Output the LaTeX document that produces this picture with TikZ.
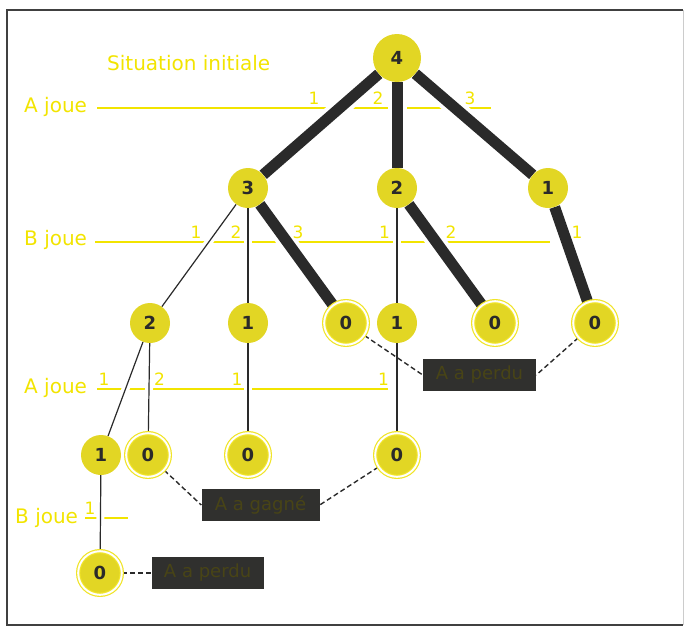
\documentclass[tikz,border=0pt]{standalone}
\usepackage{fontspec}
\setmainfont{DejaVu Sans}
\usetikzlibrary{positioning,backgrounds}
\definecolor{heapyellow}{RGB}{226,214,36}
\definecolor{ringyellow}{RGB}{240,228,40}
\definecolor{rowyellow}{RGB}{242,228,0}
\definecolor{movegray}{RGB}{42,42,42}
\definecolor{verdictgray}{RGB}{48,48,46}
\definecolor{verdicttext}{RGB}{72,68,22}

\begin{document}
\begin{tikzpicture}[x=1pt,y=-1pt,
    heap/.style={circle,fill=heapyellow,inner sep=0pt,minimum size=40pt,
      text=movegray,font=\bfseries\fontsize{18}{18}\selectfont},
    topheap/.style={heap,minimum size=48pt},
    nil/.style={heap,draw=ringyellow,double=white,double distance=2pt,
      line width=1.2pt,minimum size=43.6pt},
    take/.style={line width=11pt,draw=movegray,preaction={draw=white,line width=19pt}},
    other/.style={line width=1.2pt,draw=movegray,preaction={draw=white,line width=8pt}},
    result/.style={dash pattern=on 5pt off 3pt,line width=1.4pt,draw=movegray},
    verdict/.style={rectangle,fill=verdictgray,text=verdicttext,minimum width=113pt,
      minimum height=32pt,inner sep=0pt,font=\fontsize{18}{18}\selectfont},
    player/.style={anchor=west,text=rowyellow,inner sep=0pt,font=\fontsize{20}{20}\selectfont},
    row/.style={draw=rowyellow,line width=1.3pt},
    num/.style={anchor=south,text=rowyellow,inner sep=0pt,font=\fontsize{17}{17}\selectfont}
  ]
    \useasboundingbox (0,0) rectangle (685,629);
    \draw[line width=1.5pt,black!75] (683,10) -- (7,10) -- (7,625) -- (683,625);
    \draw[line width=0.8pt,black!20] (683,10) -- (683,625);

    \node[topheap] (r) at (397,58) {4};
    \node[heap] (r1) at (248,188) {3};
    \node[heap] (r2) at (397,188) {2};
    \node[heap] (r3) at (548,188) {1};
    \node[heap] (r11) at (150,323) {2};
    \node[heap] (r12) at (248,323) {1};
    \node[nil] (r13) at (346,323) {0};
    \node[heap] (r21) at (397,323) {1};
    \node[nil] (r22) at (495,323) {0};
    \node[nil] (r31) at (595,323) {0};
    \node[heap] (r111) at (101,455) {1};
    \node[nil] (r112) at (148,455) {0};
    \node[nil] (r121) at (248,455) {0};
    \node[nil] (r211) at (397,455) {0};
    \node[nil] (r1111) at (100,573) {0};

    \node[verdict] (lostB) at (479.5,375) {A a perdu};
    \node[verdict,minimum width=118pt] (won) at (260.5,505) {A a gagné};
    \node[verdict,minimum width=112pt,right=29pt of r1111] (lostD) {A a perdu};

    \node[player] (sit) at (107,63) {Situation initiale};
    \node[player] (pa1) at (24,107) {A joue};
    \node[player] (pb1) at (24,240) {B joue};
    \node[player] (pa2) at (24,388) {A joue};
    \node[player] (pb2) at (15,518) {B joue};

    \begin{scope}[on background layer]
      \draw[row] (97,108) -- (491,108);
      \draw[row] (95,242) -- (550,242);
      \draw[row] (97,389) -- (388,389);
      \draw[row] (85,518) -- (128,518);

      \draw[take] (r) -- (r1);
      \draw[take] (r) -- (r2);
      \draw[take] (r) -- (r3);
      \draw[other] (r1) -- (r11);
      \draw[other] (r1) -- (r12);
      \draw[take] (r1) -- (r13);
      \draw[other] (r2) -- (r21);
      \draw[take] (r2) -- (r22);
      \draw[take] (r3) -- (r31);
      \draw[other] (r11) -- (r111);
      \draw[other] (r11) -- (r112);
      \draw[other] (r12) -- (r121);
      \draw[other] (r21) -- (r211);
      \draw[other] (r111) -- (r1111);

      \draw[result] (r13) -- (lostB.west);
      \draw[result] (r31) -- (lostB.east);
      \draw[result] (r112) -- (won.west);
      \draw[result] (r211) -- (won.east);
      \draw[result] (r1111) -- (lostD);
    \end{scope}

    \foreach \x/\t [count=\i] in {314/1,378/2,470/3}
      \node[num] (ma\i) at (\x,105) {\t};
    \foreach \x/\t [count=\i] in {196/1,236/2,298/3,384.5/1,451/2,577/1}
      \node[num] (mb\i) at (\x,239) {\t};
    \foreach \x/\t [count=\i] in {104/1,159.5/2,237/1,383.5/1}
      \node[num] (mc\i) at (\x,386) {\t};
    \node[num] (md1) at (90,515) {1};
  \end{tikzpicture}
\end{document}
